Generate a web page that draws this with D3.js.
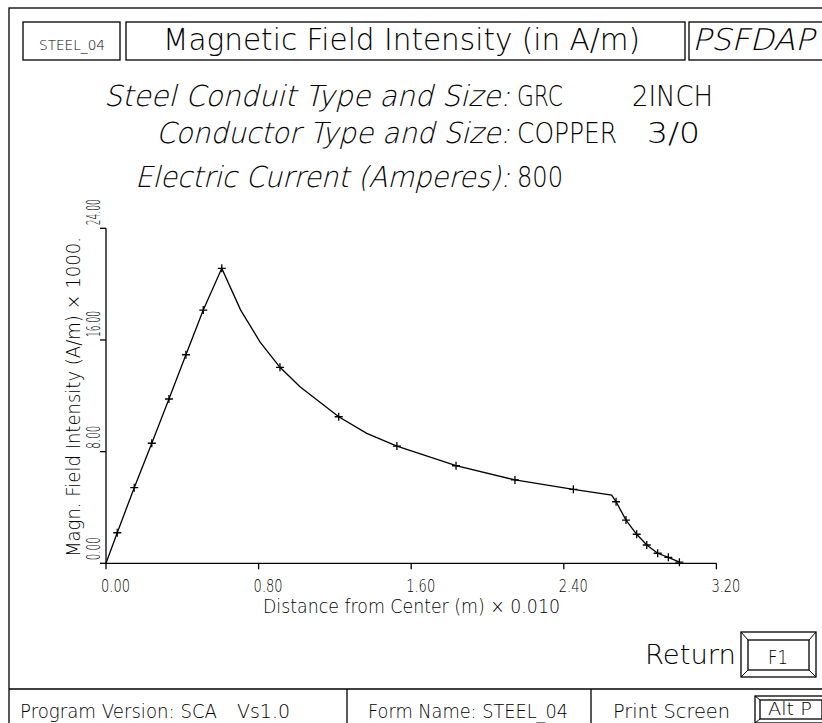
<!DOCTYPE html>
<html>
<head>
<meta charset="utf-8">
<script src="https://cdn.jsdelivr.net/npm/d3@7"></script>
<style>
  body { margin: 0; background: #fff; }
  svg text { font-family: "DejaVu Sans", sans-serif; font-weight: 200; fill: #000; white-space: pre; }
</style>
</head>
<body>
<svg id="chart" width="822" height="723"></svg>
<script>
// curve vertices (distance x 0.010 m, intensity x 1000 A/m)
const lineDist = [0, 0.059, 0.148, 0.240, 0.330, 0.419, 0.510, 0.607, 0.706, 0.807, 0.912, 1.017,
                  1.220, 1.367, 1.525, 1.835, 2.144, 2.450, 2.651, 2.674, 2.726, 2.782, 2.835, 2.892, 2.948, 3.006];
const lineField = [0, 2.19, 5.42, 8.60, 11.77, 14.94, 18.14, 21.13, 18.14, 15.87, 14.04, 12.65,
                   10.50, 9.31, 8.40, 6.99, 5.97, 5.30, 4.89, 4.41, 3.10, 2.08, 1.31, 0.72, 0.43, 0.08];
// points marked with a cross
const markDist = [0.059, 0.148, 0.240, 0.330, 0.419, 0.510, 0.607, 0.912, 1.220, 1.525, 1.835, 2.144,
                  2.450, 2.674, 2.726, 2.782, 2.835, 2.892, 2.948, 3.006];
const markField = [2.19, 5.42, 8.60, 11.77, 14.94, 18.14, 21.13, 14.04, 10.50, 8.40, 6.99, 5.97,
                   5.30, 4.41, 3.10, 2.08, 1.31, 0.72, 0.43, 0.08];

const xTicks = [0, 0.8, 1.6, 2.4, 3.2];
const yTicks = [0, 8, 16, 24];

const svg = d3.select("#chart");

function txt(s, x, y, size, len, opts = {}) {
    const t = svg.append("text")
        .attr("font-size", size)
        .text(s);
    if (opts.italic) {
        // slanted light glyphs, the font has no light oblique
        t.attr("transform", `translate(${x},${y}) skewX(-14)`);
    } else {
        t.attr("x", x).attr("y", y);
    }
    if (len) t.attr("textLength", len).attr("lengthAdjust", "spacingAndGlyphs");
    if (opts.anchor) t.attr("text-anchor", opts.anchor);
    return t;
}

function box(x, y, w, h) {
    svg.append("rect").attr("x", x).attr("y", y).attr("width", w).attr("height", h)
        .attr("fill", "none").attr("stroke", "#000").attr("stroke-width", 1.3);
}

// outer frame and header boxes
box(9, 8, 900, 900);
box(23, 22, 97, 38);
box(126, 22, 559, 38);
box(689, 22, 200, 38);

txt("STEEL_04", 39, 50, 14, 66);
txt("Magnetic Field Intensity (in A/m)", 163, 50, 30, 477);
txt("PSFDAP", 692, 50, 30, 122, { italic: true });

// info lines
txt("Steel Conduit Type and Size:", 104, 106, 29, 406, { italic: true });
txt("GRC", 517, 106, 29, 46);
txt("2INCH", 632, 106, 29, 81);
txt("Conductor Type and Size:", 156, 143, 29, 354, { italic: true });
txt("COPPER", 517, 143, 29, 100);
txt("3/0", 647, 143, 29, 53);
txt("Electric Current (Amperes):", 135, 187, 29, 375, { italic: true });
txt("800", 517, 187, 29, 46);

// plot
const x = d3.scaleLinear().domain([0, 3.2]).range([106, 716.4]);
const y = d3.scaleLinear().domain([0, 24]).range([563.3, 228.3]);

const g = svg.append("g").attr("stroke", "#000").attr("stroke-width", 1.3).attr("fill", "none");
g.append("line").attr("x1", x(0)).attr("x2", x(3.2)).attr("y1", y(0)).attr("y2", y(0));
g.append("line").attr("x1", x(0)).attr("x2", x(0)).attr("y1", y(0)).attr("y2", y(24));
g.selectAll(".xt").data(xTicks).join("line")
    .attr("x1", d => x(d)).attr("x2", d => x(d)).attr("y1", y(0)).attr("y2", y(0) + 6);
g.selectAll(".yt").data(yTicks).join("line")
    .attr("x1", x(0) - 6).attr("x2", x(0)).attr("y1", d => y(d)).attr("y2", d => y(d));

svg.selectAll(".xl").data(xTicks).join("text")
    .attr("x", d => x(d) - 5).attr("y", 592)
    .attr("font-size", 18).attr("textLength", 29).attr("lengthAdjust", "spacingAndGlyphs")
    .text(d => d.toFixed(2));
svg.selectAll(".yl").data(yTicks).join("text")
    .attr("transform", d => `translate(100,${y(d) - 3}) rotate(-90)`)
    .attr("font-size", 20)
    .attr("textLength", d => d >= 10 ? 26 : 23).attr("lengthAdjust", "spacingAndGlyphs")
    .text(d => d.toFixed(2));

txt("Distance from Center (m) \u00d7 0.010", 263, 613, 19, 297);
svg.append("text")
    .attr("transform", "translate(80,557) rotate(-90)")
    .attr("font-size", 20).attr("textLength", 320).attr("lengthAdjust", "spacingAndGlyphs")
    .text("Magn. Field Intensity (A/m) \u00d7 1000.");

const pts = lineDist.map((d, i) => [d, lineField[i]]);
g.append("path")
    .attr("d", d3.line().x(d => x(d[0])).y(d => y(d[1]))(pts));

const marks = markDist.map((d, i) => [d, markField[i]]);
g.selectAll(".mk").data(marks).join("path")
    .attr("d", d => {
        const px = x(d[0]), py = y(d[1]);
        return `M${px - 4},${py}H${px + 4}M${px},${py - 4}V${py + 4}`;
    });

// return button
txt("Return", 645, 664, 27, 91);
box(741, 632, 75, 45);
box(748, 640, 61, 30);
g.append("path").attr("stroke-width", 1)
    .attr("d", "M741,632L748,640M816,632L809,640M741,677L748,670M816,677L809,670");
txt("F1", 778, 664, 19, 20, { anchor: "middle" });

// bottom bar
g.append("line").attr("x1", 9).attr("x2", 822).attr("y1", 689).attr("y2", 689);
g.append("line").attr("x1", 347).attr("x2", 347).attr("y1", 689).attr("y2", 723);
g.append("line").attr("x1", 591).attr("x2", 591).attr("y1", 689).attr("y2", 723);
txt("Program Version: SCA", 20, 718, 20, 197);
txt("Vs1.0", 237, 718, 20, 53);
txt("Form Name: STEEL_04", 368, 718, 20, 200);
txt("Print Screen", 613, 718, 20, 117);
box(755, 696, 70, 27);
box(760, 700, 62, 19);
g.append("path").attr("stroke-width", 1).attr("d", "M755,696L760,700M755,723L760,719");
txt("Alt P", 790, 715, 17, 44, { anchor: "middle" });
</script>
</body>
</html>
